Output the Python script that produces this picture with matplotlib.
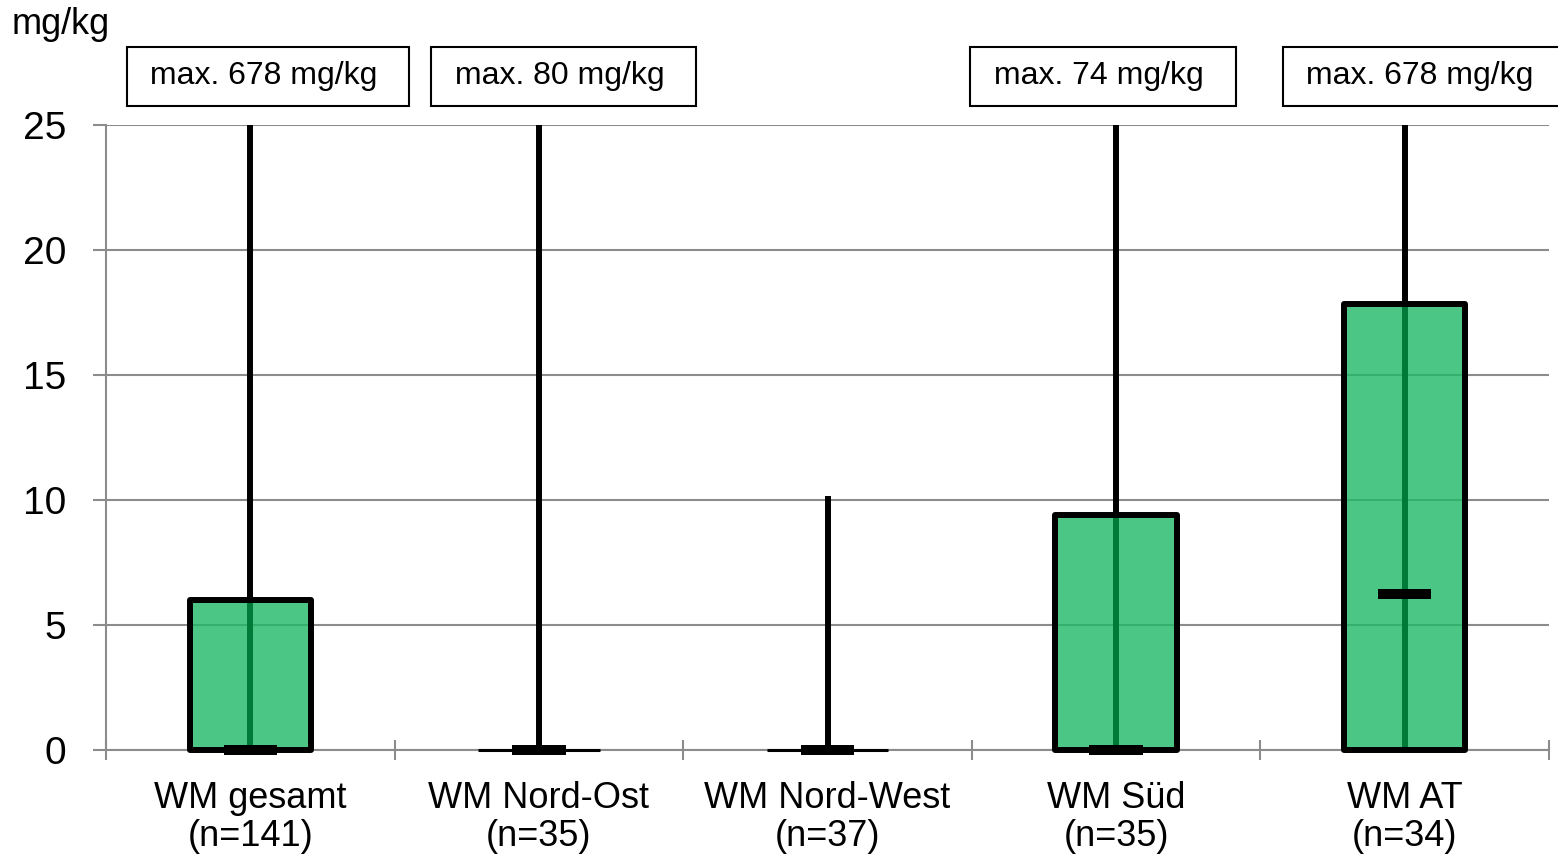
import matplotlib
matplotlib.use("Agg")
import matplotlib.pyplot as plt
from matplotlib.patches import Rectangle

plt.rcParams['font.family'] = ['Liberation Sans', 'DejaVu Sans']

# ---- data ----
categories = ["WM gesamt\n(n=141)", "WM Nord-Ost\n(n=35)", "WM Nord-West\n(n=37)",
              "WM Süd\n(n=35)", "WM AT\n(n=34)"]
q1 = [0, 0, 0, 0, 0]
median = [0, 0, 0, 0, 6.24]
q3 = [6.0, 0, 0, 9.4, 17.85]
whisker_low = [0, 0, 0, 0, 0]
whisker_high = [678, 80, 10.15, 74, 678]
max_labels = ["max. 678 mg/kg", "max. 80 mg/kg", None, "max. 74 mg/kg", "max. 678 mg/kg"]
yticks = [0, 5, 10, 15, 20, 25]
unit = "mg/kg"

# ---- style ----
label_dx = [-0.379, -0.323, 0, -0.455, -0.372]
box_w = 0.42
med_w = 0.185
fill = "#1fb865"
inner = "#007a37"
grid_c = "#8c8c8c"
lw = 4.3

fig = plt.figure(figsize=(15.58, 8.58), dpi=100)
ax = fig.add_axes([106/1558, 1-750/858, (1549-106)/1558, (750-125)/858])
ax.set_xlim(-0.5, len(categories)-0.5)
ax.set_ylim(0, 25)

for y in yticks:
    ax.axhline(y, color=grid_c, lw=1.5, zorder=0)

for i in range(len(categories)):
    lo, hi = q1[i], q3[i]
    if hi > lo:
        ax.add_patch(Rectangle((i-box_w/2, lo), box_w, hi-lo, facecolor=fill, alpha=0.8,
                               edgecolor='none', zorder=2))
        ax.plot([i, i], [whisker_low[i], hi], color=inner, lw=lw, solid_capstyle='butt', zorder=3)
        ax.add_patch(Rectangle((i-box_w/2, lo), box_w, hi-lo, facecolor='none',
                               edgecolor='black', lw=lw, joinstyle='round', zorder=4,
                               clip_on=False))
    else:
        ax.plot([i-box_w/2, i+box_w/2], [lo, lo], color='black', lw=2.2,
                solid_capstyle='butt', zorder=4, clip_on=False)
    ax.plot([i, i], [hi, whisker_high[i]], color='black', lw=lw, solid_capstyle='butt', zorder=3)
    ax.plot([i-med_w/2, i+med_w/2], [median[i], median[i]], color='black', lw=7.2,
            solid_capstyle='butt', zorder=5, clip_on=False)
    if max_labels[i]:
        ax.text(i+label_dx[i], 26.95, " " + max_labels[i] + "  ", fontsize=23, ha='left',
                va='center', clip_on=False,
                bbox=dict(boxstyle='square,pad=0.45', facecolor='white', edgecolor='black', lw=1.5))

for s in ['top', 'right']:
    ax.spines[s].set_visible(False)
for s in ['left', 'bottom']:
    ax.spines[s].set_color(grid_c)
    ax.spines[s].set_linewidth(1.5)

ax.set_yticks(yticks)
ax.set_yticklabels([str(v) for v in yticks], fontsize=28)
ax.tick_params(axis='y', direction='out', length=9.4, width=1.5, color=grid_c, pad=19)

ax.set_xticks([i-0.5 for i in range(len(categories)+1)])
ax.set_xticklabels([])
ax.tick_params(axis='x', which='major', direction='inout', length=15, width=1.5, color=grid_c)
ax.set_xticks(range(len(categories)), minor=True)
ax.set_xticklabels(categories, minor=True, fontsize=26, linespacing=1.12)
ax.tick_params(axis='x', which='minor', length=0, pad=22)

fig.text(12/1558, 1-34/858, unit, fontsize=26, ha='left', va='baseline')

fig.savefig("out.png", dpi=100)
